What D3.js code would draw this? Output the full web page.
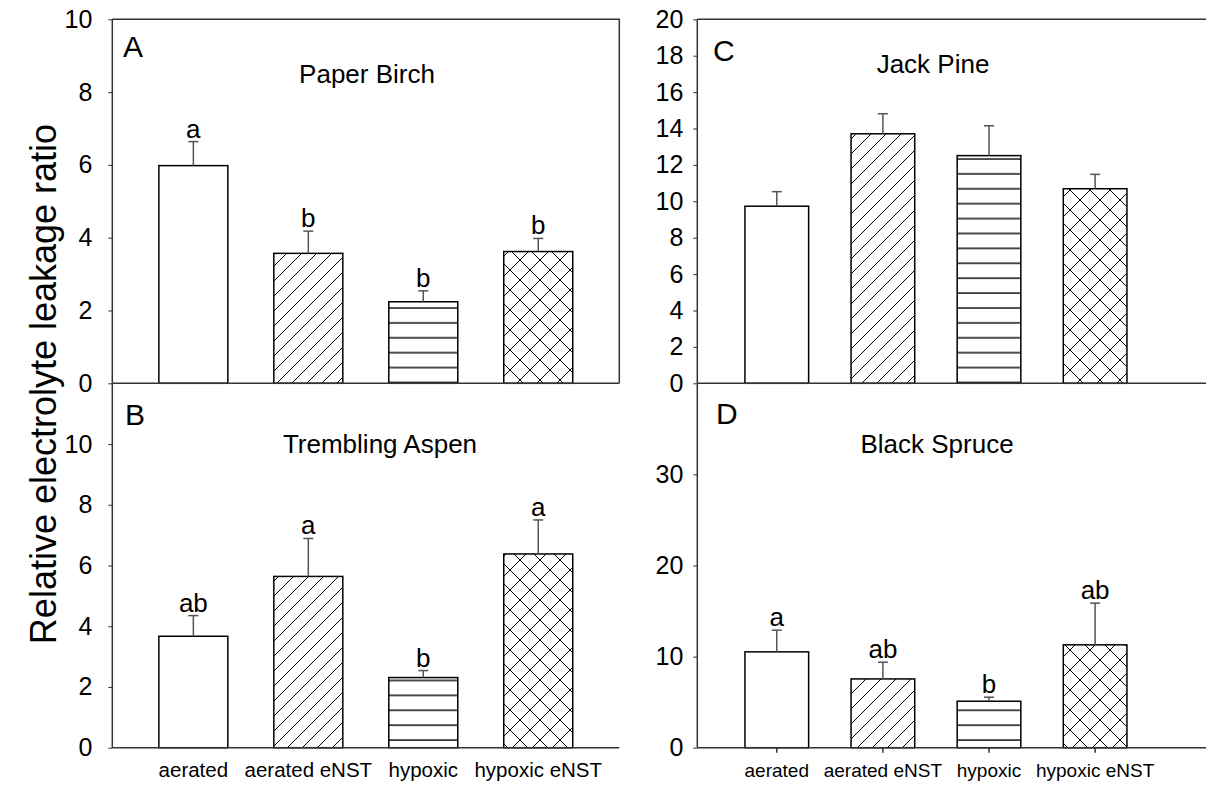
<!DOCTYPE html>
<html>
<head>
<meta charset="utf-8">
<script src="https://cdn.jsdelivr.net/npm/d3@7"></script>
<style>
	body{margin:0;background:#fff}
	text{font-family:"Liberation Sans",Arial,sans-serif;fill:#000}
</style>
</head>
<body>
<div class="chart"></div>
<script>
// treatments on the x axis
const treatments=['aerated','aerated eNST','hypoxic','hypoxic eNST']

// A - Paper Birch
const birchMean=[5.98,3.57,2.24,3.62]
const birchSE=[0.66,0.61,0.30,0.36]
const birchLetters=['a','b','b','b']
// B - Trembling Aspen
const aspenMean=[3.67,5.64,2.31,6.38]
const aspenSE=[0.68,1.25,0.23,1.12]
const aspenLetters=['ab','a','b','a']
// C - Jack Pine (no letters)
const pineMean=[9.73,13.71,12.51,10.69]
const pineSE=[0.80,1.10,1.64,0.79]
const pineLetters=['','','','']
// D - Black Spruce
const spruceMean=[10.52,7.55,5.10,11.29]
const spruceSE=[2.38,1.83,0.44,4.58]
const spruceLetters=['a','ab','b','ab']

const ticksA=[0,2,4,6,8,10]
const ticksB=[0,2,4,6,8,10]
const ticksC=[0,2,4,6,8,10,12,14,16,18,20]
const ticksD=[0,10,20,30]

const width=1206,height=788

const svg=d3.select('.chart').append('svg')
	.attr('width',width)
	.attr('height',height)

// hatch patterns
const defs=svg.append('defs')
let p=defs.append('pattern').attr('id','diag')
	.attr('patternUnits','userSpaceOnUse').attr('width',15).attr('height',15)
p.append('rect').attr('width',15).attr('height',15).attr('fill','#fff')
p.append('path').attr('d','M0,15L15,0M-2,2L2,-2M13,17L17,13')
	.attr('stroke','#000').attr('stroke-width',1)

p=defs.append('pattern').attr('id','horiz')
	.attr('patternUnits','userSpaceOnUse').attr('width',10).attr('height',14.9)
p.append('rect').attr('width',10).attr('height',14.9).attr('fill','#fff')
p.append('line').attr('x1',0).attr('x2',10).attr('y1',10).attr('y2',10)
	.attr('stroke','#000').attr('stroke-width',1.4)

p=defs.append('pattern').attr('id','cross')
	.attr('patternUnits','userSpaceOnUse').attr('width',20).attr('height',20)
p.append('rect').attr('width',20).attr('height',20).attr('fill','#fff')
p.append('path').attr('d','M0,0L20,20M20,0L0,20')
	.attr('stroke','#000').attr('stroke-width',1)

const fills=['#fff','url(#diag)','url(#horiz)','url(#cross)']

const panels=[
	{id:'A',title:'Paper Birch',mean:birchMean,se:birchSE,letters:birchLetters,ticks:ticksA,max:10,
		left:112.3,right:619.3,top:19.3,bottom:383.3,frame:true,pad:0.705,tickPad:16,
		titleX:367,titleY:83,labelX:123,labelY:57,xLabels:false,xTicks:false,xFont:20},
	{id:'B',title:'Trembling Aspen',mean:aspenMean,se:aspenSE,letters:aspenLetters,ticks:ticksB,max:12,
		left:112.3,right:619.3,top:383.3,bottom:747.7,frame:false,pad:0.705,tickPad:16,
		titleX:380,titleY:453,labelX:125,labelY:425,xLabels:true,xTicks:false,xFont:20.5},
	{id:'C',title:'Jack Pine',mean:pineMean,se:pineSE,letters:pineLetters,ticks:ticksC,max:20,
		left:697.3,right:1174.6,top:19.3,bottom:383.3,frame:true,pad:0.749,tickPad:10,
		titleX:933,titleY:72.5,labelX:713,labelY:61,xLabels:false,xTicks:false,xFont:19},
	{id:'D',title:'Black Spruce',mean:spruceMean,se:spruceSE,letters:spruceLetters,ticks:ticksD,max:40,
		left:697.3,right:1174.6,top:383.3,bottom:747.7,frame:false,pad:0.749,tickPad:10,
		titleX:937,titleY:452.5,labelX:716,labelY:424,xLabels:true,xTicks:true,xFont:19}
]

function panel(cfg){
	const g=svg.append('g').attr('class','panel-'+cfg.id)

	const xScale=d3.scalePoint()
		.domain(treatments)
		.range([cfg.left,cfg.right])
		.padding(cfg.pad)

	const yScale=d3.scaleLinear()
		.domain([0,cfg.max])
		.range([cfg.bottom,cfg.top])

	const barW=xScale.step()*0.6

	const data=treatments.map((t,i)=>({t:t,m:cfg.mean[i],se:cfg.se[i],l:cfg.letters[i],fill:fills[i]}))

	// frame (top and right side) for upper panels
	if(cfg.frame){
		const fr=cfg.id=='C'?1215:cfg.right
		g.append('path')
			.attr('d',`M${cfg.left},${cfg.top}H${fr}V${cfg.bottom}`)
			.attr('fill','none')
			.attr('stroke','#333')
			.attr('stroke-width',1.5)
	}

	g.selectAll('.bar')
		.data(data)
		.enter()
		.append('rect')
		.attr('class','bar')
		.attr('x',d=>xScale(d.t)-barW/2)
		.attr('y',d=>yScale(d.m))
		.attr('width',barW)
		.attr('height',d=>yScale(0)-yScale(d.m))
		.attr('fill',d=>d.fill)
		.attr('stroke','#000')
		.attr('stroke-width',1.5)

	// error bars (upper only)
	const err=g.selectAll('.err')
		.data(data)
		.enter()
		.append('g')
		.attr('class','err')
		.attr('stroke','#555')
		.attr('stroke-width',1.5)
	err.append('line')
		.attr('x1',d=>xScale(d.t)).attr('x2',d=>xScale(d.t))
		.attr('y1',d=>yScale(d.m)).attr('y2',d=>yScale(d.m+d.se))
	err.append('line')
		.attr('x1',d=>xScale(d.t)-5).attr('x2',d=>xScale(d.t)+5)
		.attr('y1',d=>yScale(d.m+d.se)).attr('y2',d=>yScale(d.m+d.se))

	g.selectAll('.sig')
		.data(data)
		.enter()
		.append('text')
		.attr('class','sig')
		.attr('x',d=>xScale(d.t))
		.attr('y',d=>yScale(d.m+d.se)-4)
		.attr('text-anchor','middle')
		.style('font-size','26px')
		.text(d=>d.l)

	// y axis
	const yAxis=d3.axisLeft(yScale)
		.tickValues(cfg.ticks)
		.tickFormat(d3.format('d'))
		.tickSize(4)
		.tickPadding(cfg.tickPad)
	const ya=g.append('g')
		.attr('transform',`translate(${cfg.left},0)`)
		.call(yAxis)
	ya.select('.domain').remove()
	ya.selectAll('line').attr('stroke','#333')
	ya.selectAll('text').style('font-size','25px').style('font-family','"Liberation Sans",Arial,sans-serif')
	g.append('line')
		.attr('x1',cfg.left).attr('x2',cfg.left)
		.attr('y1',cfg.top).attr('y2',cfg.bottom)
		.attr('stroke','#333').attr('stroke-width',1.5)

	// x axis (zero line)
	const xr=(cfg.id=='D'||cfg.id=='C')?1215:cfg.right
	g.append('line')
		.attr('x1',cfg.left).attr('x2',xr)
		.attr('y1',cfg.bottom).attr('y2',cfg.bottom)
		.attr('stroke','#333').attr('stroke-width',1.5)

	if(cfg.xTicks){
		g.selectAll('.xtick')
			.data(treatments)
			.enter()
			.append('line')
			.attr('x1',d=>xScale(d)).attr('x2',d=>xScale(d))
			.attr('y1',cfg.bottom).attr('y2',cfg.bottom+5)
			.attr('stroke','#333').attr('stroke-width',1.5)
	}
	if(cfg.xLabels){
		g.selectAll('.xlab')
			.data(treatments)
			.enter()
			.append('text')
			.attr('x',d=>xScale(d))
			.attr('y',777)
			.attr('text-anchor','middle')
			.style('font-size',cfg.xFont+'px')
			.text(d=>d)
	}

	g.append('text')
		.attr('x',cfg.titleX)
		.attr('y',cfg.titleY)
		.attr('text-anchor','middle')
		.style('font-size','26px')
		.text(cfg.title)

	g.append('text')
		.attr('x',cfg.labelX)
		.attr('y',cfg.labelY)
		.style('font-size','30px')
		.text(cfg.id)
}

panels.forEach(panel)

svg.append('text')
	.attr('transform','translate(56,384) rotate(-90)')
	.attr('text-anchor','middle')
	.style('font-size','36px')
	.text('Relative electrolyte leakage ratio')
</script>
</body>
</html>
